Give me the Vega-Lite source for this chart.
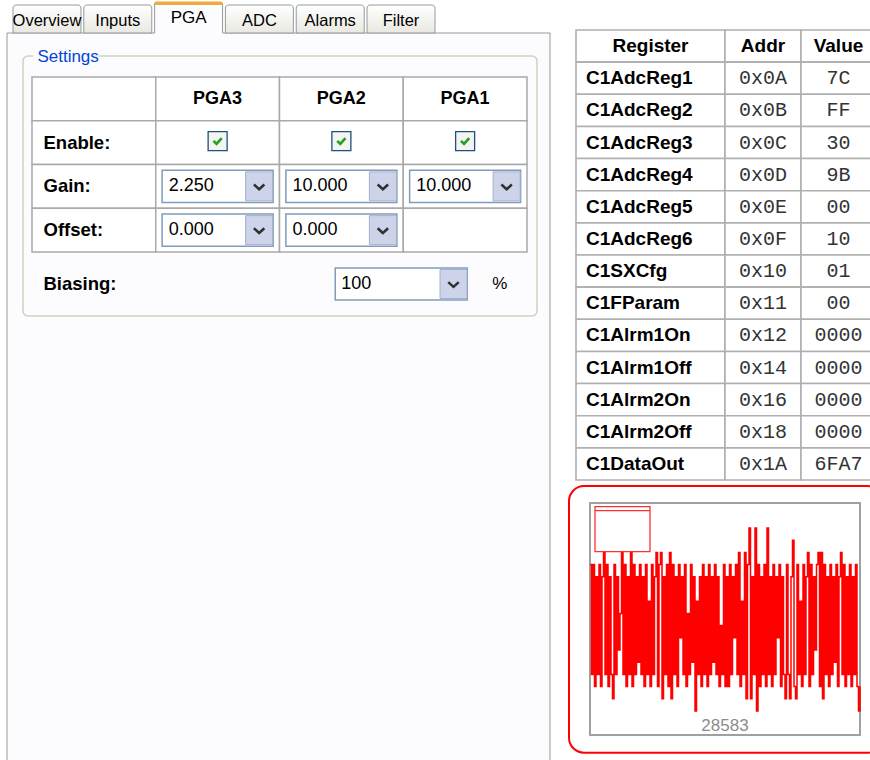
{
"$schema":"https://vega.github.io/schema/vega-lite/v6.json",
"width":870,"height":760,"padding":0,"autosize":{"type":"none"},
"background":"#ffffff",
"config":{"view":{"stroke":null},"axis":{"disable":true},"legend":{"disable":true}},
"datasets":{
 "panel":[{"page":"PGA"}],
 "tabs":[{"tab":"Overview"},{"tab":"Inputs"},{"tab":"PGA","selected":true},{"tab":"ADC"},{"tab":"Alarms"},{"tab":"Filter"}],
 "group":[{"title":"Settings"}],
 "rows":[{"row":"channel","label":""},{"row":"enable","label":"Enable:"},{"row":"gain","label":"Gain:"},{"row":"offset","label":"Offset:"}],
 "pga":[{"channel":"PGA3","enable":true,"gain":"2.250","offset":"0.000"},{"channel":"PGA2","enable":true,"gain":"10.000","offset":"0.000"},{"channel":"PGA1","enable":true,"gain":"10.000","offset":null}],
 "biasing":[{"setting":"Biasing:","value":"100","unit":"%"}],
 "registers":[
  {"register":"Register","addr":"Addr","value":"Value"},
  {"register":"C1AdcReg1","addr":"0x0A","value":"7C"},
  {"register":"C1AdcReg2","addr":"0x0B","value":"FF"},
  {"register":"C1AdcReg3","addr":"0x0C","value":"30"},
  {"register":"C1AdcReg4","addr":"0x0D","value":"9B"},
  {"register":"C1AdcReg5","addr":"0x0E","value":"00"},
  {"register":"C1AdcReg6","addr":"0x0F","value":"10"},
  {"register":"C1SXCfg","addr":"0x10","value":"01"},
  {"register":"C1FParam","addr":"0x11","value":"00"},
  {"register":"C1Alrm1On","addr":"0x12","value":"0000"},
  {"register":"C1Alrm1Off","addr":"0x14","value":"0000"},
  {"register":"C1Alrm2On","addr":"0x16","value":"0000"},
  {"register":"C1Alrm2Off","addr":"0x18","value":"0000"},
  {"register":"C1DataOut","addr":"0x1A","value":"6FA7"}
 ],
 "reading":[{"reading":28583}],
 "signal":[
{"i":0,"code":28588},{"i":1,"code":28579},{"i":2,"code":28588},{"i":3,"code":28578},{"i":4,"code":28587},{"i":5,"code":28579},{"i":6,"code":28588},{"i":7,"code":28578},{"i":8,"code":28587},{"i":9,"code":28590},
{"i":10,"code":28579},{"i":11,"code":28588},{"i":12,"code":28578},{"i":13,"code":28587},{"i":14,"code":28579},{"i":15,"code":28577},{"i":16,"code":28588},{"i":17,"code":28579},{"i":18,"code":28587},{"i":19,"code":28581},
{"i":20,"code":28584},{"i":21,"code":28590},{"i":22,"code":28579},{"i":23,"code":28588},{"i":24,"code":28578},{"i":25,"code":28587},{"i":26,"code":28579},{"i":27,"code":28590},{"i":28,"code":28578},{"i":29,"code":28588},
{"i":30,"code":28579},{"i":31,"code":28587},{"i":32,"code":28580},{"i":33,"code":28588},{"i":34,"code":28579},{"i":35,"code":28587},{"i":36,"code":28578},{"i":37,"code":28588},{"i":38,"code":28579},{"i":39,"code":28585},
{"i":40,"code":28578},{"i":41,"code":28588},{"i":42,"code":28579},{"i":43,"code":28587},{"i":44,"code":28589},{"i":45,"code":28578},{"i":46,"code":28588},{"i":47,"code":28589},{"i":48,"code":28577},{"i":49,"code":28587},
{"i":50,"code":28579},{"i":51,"code":28588},{"i":52,"code":28578},{"i":53,"code":28589},{"i":54,"code":28577},{"i":55,"code":28588},{"i":56,"code":28579},{"i":57,"code":28587},{"i":58,"code":28578},{"i":59,"code":28588},
{"i":60,"code":28582},{"i":61,"code":28587},{"i":62,"code":28579},{"i":63,"code":28588},{"i":64,"code":28578},{"i":65,"code":28584},{"i":66,"code":28579},{"i":67,"code":28588},{"i":68,"code":28580},{"i":69,"code":28587},
{"i":70,"code":28576},{"i":71,"code":28585},{"i":72,"code":28579},{"i":73,"code":28587},{"i":74,"code":28578},{"i":75,"code":28588},{"i":76,"code":28579},{"i":77,"code":28587},{"i":78,"code":28578},{"i":79,"code":28588},
{"i":80,"code":28579},{"i":81,"code":28587},{"i":82,"code":28580},{"i":83,"code":28588},{"i":84,"code":28579},{"i":85,"code":28587},{"i":86,"code":28578},{"i":87,"code":28583},{"i":88,"code":28579},{"i":89,"code":28588},
{"i":90,"code":28578},{"i":91,"code":28587},{"i":92,"code":28578},{"i":93,"code":28588},{"i":94,"code":28579},{"i":95,"code":28587},{"i":96,"code":28582},{"i":97,"code":28588},{"i":98,"code":28579},{"i":99,"code":28589},
{"i":100,"code":28578},{"i":101,"code":28585},{"i":102,"code":28579},{"i":103,"code":28589},{"i":104,"code":28577},{"i":105,"code":28588},{"i":106,"code":28591},{"i":107,"code":28577},{"i":108,"code":28587},{"i":109,"code":28579},
{"i":110,"code":28591},{"i":111,"code":28576},{"i":112,"code":28588},{"i":113,"code":28578},{"i":114,"code":28587},{"i":115,"code":28579},{"i":116,"code":28588},{"i":117,"code":28578},{"i":118,"code":28591},{"i":119,"code":28579},
{"i":120,"code":28587},{"i":121,"code":28578},{"i":122,"code":28588},{"i":123,"code":28579},{"i":124,"code":28587},{"i":125,"code":28582},{"i":126,"code":28588},{"i":127,"code":28578},{"i":128,"code":28587},{"i":129,"code":28579},
{"i":130,"code":28577},{"i":131,"code":28588},{"i":132,"code":28579},{"i":133,"code":28577},{"i":134,"code":28587},{"i":135,"code":28590},{"i":136,"code":28578},{"i":137,"code":28577},{"i":138,"code":28588},{"i":139,"code":28579},
{"i":140,"code":28585},{"i":141,"code":28578},{"i":142,"code":28588},{"i":143,"code":28579},{"i":144,"code":28587},{"i":145,"code":28589},{"i":146,"code":28578},{"i":147,"code":28588},{"i":148,"code":28579},{"i":149,"code":28587},
{"i":150,"code":28581},{"i":151,"code":28588},{"i":152,"code":28589},{"i":153,"code":28578},{"i":154,"code":28589},{"i":155,"code":28577},{"i":156,"code":28588},{"i":157,"code":28579},{"i":158,"code":28587},{"i":159,"code":28578},
{"i":160,"code":28588},{"i":161,"code":28579},{"i":162,"code":28587},{"i":163,"code":28580},{"i":164,"code":28588},{"i":165,"code":28578},{"i":166,"code":28587},{"i":167,"code":28589},{"i":168,"code":28579},{"i":169,"code":28588},
{"i":170,"code":28578},{"i":171,"code":28587},{"i":172,"code":28579},{"i":173,"code":28588},{"i":174,"code":28578},{"i":175,"code":28587},{"i":176,"code":28579},{"i":177,"code":28588},{"i":178,"code":28578},{"i":179,"code":28576},
{"i":180,"code":28578}
 ]
},
"resolve":{"scale":{"x":"independent","y":"independent"}},
"layer":[
 {"data":{"name":"panel"},
  "mark":{"type":"rect","fill":"#fcfcfe","stroke":"#919b9c","strokeWidth":1},
  "encoding":{
   "x":{"datum":0,"type":"quantitative","scale":{"domain":[0,1],"range":[7,550],"nice":false,"zero":false}},"x2":{"datum":1},
   "y":{"datum":0,"type":"quantitative","scale":{"domain":[0,1],"range":[33,800],"nice":false,"zero":false}},"y2":{"datum":1}}},
 {"data":{"name":"tabs"},
  "resolve":{"scale":{"y":"independent"}},
  "layer":[
   {"transform":[{"filter":"!datum.selected"}],
    "mark":{"type":"rect","stroke":"#919b9c","strokeWidth":1,"cornerRadiusTopLeft":3,"cornerRadiusTopRight":3,
     "fill":{"gradient":"linear","x1":0,"y1":0,"x2":0,"y2":1,"stops":[{"offset":0,"color":"#ffffff"},{"offset":1,"color":"#e9e8e1"}]}},
    "encoding":{
     "x":{"field":"tab","type":"nominal","scale":{"domain":["Overview","Inputs","PGA","ADC","Alarms","Filter"],"range":[13,435],"paddingInner":0.04,"paddingOuter":0}},
     "y":{"datum":0,"type":"quantitative","scale":{"domain":[0,1],"range":[5,33],"nice":false,"zero":false}},"y2":{"datum":1}}},
   {"transform":[{"filter":"!datum.selected"}],
    "mark":{"type":"text","font":"Liberation Sans","fontSize":16.5,"baseline":"middle","fill":"#000000"},
    "encoding":{
     "x":{"field":"tab","type":"nominal","scale":{"domain":["Overview","Inputs","PGA","ADC","Alarms","Filter"],"range":[13,435],"paddingInner":0.04,"paddingOuter":0}},
     "y":{"datum":0.57,"type":"quantitative","scale":{"domain":[0,1],"range":[5,33],"nice":false,"zero":false}},
     "text":{"field":"tab","type":"nominal"}}},
   {"transform":[{"filter":"datum.selected"}],
    "mark":{"type":"rect","fill":"#fcfcfe","cornerRadiusTopLeft":3,"cornerRadiusTopRight":3},
    "encoding":{
     "x":{"field":"tab","type":"nominal","scale":{"domain":["Overview","Inputs","PGA","ADC","Alarms","Filter"],"range":[13,435],"paddingInner":0.04,"paddingOuter":0}},
     "y":{"datum":0,"type":"quantitative","scale":{"domain":[0,1],"range":[2,35],"nice":false,"zero":false}},"y2":{"datum":1}}},
   {"transform":[{"filter":"datum.selected"}],
    "mark":{"type":"rule","stroke":"#919b9c","strokeWidth":1},
    "encoding":{
     "x":{"field":"tab","type":"nominal","bandPosition":0,"scale":{"domain":["Overview","Inputs","PGA","ADC","Alarms","Filter"],"range":[13,435],"paddingInner":0.04,"paddingOuter":0}},
     "y":{"datum":0,"type":"quantitative","scale":{"domain":[0,1],"range":[3,33],"nice":false,"zero":false}},"y2":{"datum":1}}},
   {"transform":[{"filter":"datum.selected"}],
    "mark":{"type":"rule","stroke":"#919b9c","strokeWidth":1},
    "encoding":{
     "x":{"field":"tab","type":"nominal","bandPosition":1,"scale":{"domain":["Overview","Inputs","PGA","ADC","Alarms","Filter"],"range":[13,435],"paddingInner":0.04,"paddingOuter":0}},
     "y":{"datum":0,"type":"quantitative","scale":{"domain":[0,1],"range":[3,33],"nice":false,"zero":false}},"y2":{"datum":1}}},
   {"transform":[{"filter":"datum.selected"}],
    "mark":{"type":"rect","fill":"#f2a93b","cornerRadiusTopLeft":3,"cornerRadiusTopRight":3},
    "encoding":{
     "x":{"field":"tab","type":"nominal","scale":{"domain":["Overview","Inputs","PGA","ADC","Alarms","Filter"],"range":[13,435],"paddingInner":0.04,"paddingOuter":0}},
     "y":{"datum":0,"type":"quantitative","scale":{"domain":[0,1],"range":[1.5,5],"nice":false,"zero":false}},"y2":{"datum":1}}},
   {"transform":[{"filter":"datum.selected"}],
    "mark":{"type":"text","font":"Liberation Sans","fontSize":17,"baseline":"middle","fill":"#000000"},
    "encoding":{
     "x":{"field":"tab","type":"nominal","scale":{"domain":["Overview","Inputs","PGA","ADC","Alarms","Filter"],"range":[13,435],"paddingInner":0.04,"paddingOuter":0}},
     "y":{"datum":0.47,"type":"quantitative","scale":{"domain":[0,1],"range":[2,35],"nice":false,"zero":false}},
     "text":{"field":"tab","type":"nominal"}}}
  ]},
 {"data":{"name":"group"},
  "layer":[
   {"mark":{"type":"rect","fill":"#ffffff","fillOpacity":0,"stroke":"#d0d0bf","strokeWidth":1.5,"cornerRadius":5},
    "encoding":{
     "x":{"datum":0,"type":"quantitative","scale":{"domain":[0,1],"range":[23,537],"nice":false,"zero":false}},"x2":{"datum":1},
     "y":{"datum":0,"type":"quantitative","scale":{"domain":[0,1],"range":[56,316],"nice":false,"zero":false}},"y2":{"datum":1}}},
   {"mark":{"type":"rect","fill":"#fcfcfe"},
    "encoding":{
     "x":{"datum":0.02,"type":"quantitative","scale":{"domain":[0,1],"range":[23,537],"nice":false,"zero":false}},"x2":{"datum":0.148},
     "y":{"datum":-0.03,"type":"quantitative","scale":{"domain":[0,1],"range":[56,316],"nice":false,"zero":false}},"y2":{"datum":0.03}}},
   {"mark":{"type":"text","align":"left","baseline":"middle","font":"Liberation Sans","fontSize":17,"fill":"#0046d5"},
    "encoding":{
     "x":{"datum":0.028,"type":"quantitative","scale":{"domain":[0,1],"range":[23,537],"nice":false,"zero":false}},
     "y":{"datum":0.003,"type":"quantitative","scale":{"domain":[0,1],"range":[56,316],"nice":false,"zero":false}},
     "text":{"field":"title","type":"nominal"}}}
  ]},
 {"layer":[
   {"data":{"name":"rows"},
    "mark":{"type":"rect","fill":"#ffffff","stroke":"#a9a9a9","strokeWidth":1.5},
    "encoding":{
     "x":{"datum":"label","type":"nominal","scale":{"type":"band","domain":["label","PGA3","PGA2","PGA1"],"range":[32,527],"paddingInner":0,"paddingOuter":0}},
     "y":{"field":"row","type":"nominal","scale":{"type":"band","domain":["channel","enable","gain","offset"],"range":[77,252],"paddingInner":0,"paddingOuter":0}}}},
   {"data":{"name":"pga"},
    "transform":[{"fold":["channel","enable","gain","offset"],"as":["row","val"]}],
    "mark":{"type":"rect","fill":"#ffffff","stroke":"#a9a9a9","strokeWidth":1.5},
    "encoding":{
     "x":{"field":"channel","type":"nominal","scale":{"type":"band","domain":["label","PGA3","PGA2","PGA1"],"range":[32,527],"paddingInner":0,"paddingOuter":0}},
     "y":{"field":"row","type":"nominal","scale":{"type":"band","domain":["channel","enable","gain","offset"],"range":[77,252],"paddingInner":0,"paddingOuter":0}}}},
   {"data":{"name":"pga"},
    "mark":{"type":"text","font":"Liberation Sans","fontWeight":"bold","fontSize":18,"baseline":"middle","fill":"#000000"},
    "encoding":{
     "x":{"field":"channel","type":"nominal","scale":{"type":"band","domain":["label","PGA3","PGA2","PGA1"],"range":[32,527],"paddingInner":0,"paddingOuter":0}},
     "y":{"datum":"channel","type":"nominal","scale":{"type":"band","domain":["channel","enable","gain","offset"],"range":[77,252],"paddingInner":0,"paddingOuter":0}},
     "text":{"field":"channel","type":"nominal"}}},
   {"data":{"name":"rows"},
    "mark":{"type":"text","align":"left","dx":11.5,"font":"Liberation Sans","fontWeight":"bold","fontSize":18.5,"baseline":"middle","fill":"#000000"},
    "encoding":{
     "x":{"datum":"label","type":"nominal","bandPosition":0,"scale":{"type":"band","domain":["label","PGA3","PGA2","PGA1"],"range":[32,527],"paddingInner":0,"paddingOuter":0}},
     "y":{"field":"row","type":"nominal","scale":{"type":"band","domain":["channel","enable","gain","offset"],"range":[77,252],"paddingInner":0,"paddingOuter":0}},
     "text":{"field":"label","type":"nominal"}}},
   {"data":{"name":"pga"},
    "transform":[{"filter":"datum.enable"}],
    "mark":{"type":"point","shape":"square","size":361,"filled":true,"fill":"#f4f5f1","stroke":"#1c5180","strokeWidth":1.3,"opacity":1,"yOffset":-1.5},
    "encoding":{
     "x":{"field":"channel","type":"nominal","scale":{"type":"band","domain":["label","PGA3","PGA2","PGA1"],"range":[32,527],"paddingInner":0,"paddingOuter":0}},
     "y":{"datum":"enable","type":"nominal","scale":{"type":"band","domain":["channel","enable","gain","offset"],"range":[77,252],"paddingInner":0,"paddingOuter":0}}}},
   {"data":{"name":"pga"},
    "transform":[{"filter":"datum.enable"}],
    "mark":{"type":"point","shape":"M-0.75,-0.05L-0.2,0.5L0.75,-0.55","size":121,"filled":false,"stroke":"#21a121","strokeWidth":2.6,"opacity":1,"yOffset":-1.5},
    "encoding":{
     "x":{"field":"channel","type":"nominal","scale":{"type":"band","domain":["label","PGA3","PGA2","PGA1"],"range":[32,527],"paddingInner":0,"paddingOuter":0}},
     "y":{"datum":"enable","type":"nominal","scale":{"type":"band","domain":["channel","enable","gain","offset"],"range":[77,252],"paddingInner":0,"paddingOuter":0}}}},
   {"data":{"name":"pga"},
    "transform":[{"fold":["gain","offset"],"as":["row","setting"]},{"filter":"datum.setting != null"}],
    "mark":{"type":"point","shape":"M-1,-0.2883H1V0.2883H-1Z","size":12321,"filled":true,"fill":"#ffffff","stroke":"#7f9db9","strokeWidth":1.5,"opacity":1},
    "encoding":{
     "x":{"field":"channel","type":"nominal","scale":{"type":"band","domain":["label","PGA3","PGA2","PGA1"],"range":[32,527],"paddingInner":0,"paddingOuter":0}},
     "y":{"field":"row","type":"nominal","scale":{"type":"band","domain":["channel","enable","gain","offset"],"range":[77,252],"paddingInner":0,"paddingOuter":0}}}},
   {"data":{"name":"pga"},
    "transform":[{"fold":["gain","offset"],"as":["row","setting"]},{"filter":"datum.setting != null"}],
    "mark":{"type":"point","shape":"M-1,-1.074H1V1.074H-1Z","size":729,"filled":true,"fill":"#cdd4e9","stroke":"#a4b0d0","strokeWidth":1,"opacity":1,"xOffset":41.5},
    "encoding":{
     "x":{"field":"channel","type":"nominal","scale":{"type":"band","domain":["label","PGA3","PGA2","PGA1"],"range":[32,527],"paddingInner":0,"paddingOuter":0}},
     "y":{"field":"row","type":"nominal","scale":{"type":"band","domain":["channel","enable","gain","offset"],"range":[77,252],"paddingInner":0,"paddingOuter":0}}}},
   {"data":{"name":"pga"},
    "transform":[{"fold":["gain","offset"],"as":["row","setting"]},{"filter":"datum.setting != null"}],
    "mark":{"type":"point","shape":"M-1,-0.45L0,0.45L1,-0.45","size":110,"filled":false,"stroke":"#303030","strokeWidth":2.5,"opacity":1,"xOffset":41.5,"yOffset":0.5},
    "encoding":{
     "x":{"field":"channel","type":"nominal","scale":{"type":"band","domain":["label","PGA3","PGA2","PGA1"],"range":[32,527],"paddingInner":0,"paddingOuter":0}},
     "y":{"field":"row","type":"nominal","scale":{"type":"band","domain":["channel","enable","gain","offset"],"range":[77,252],"paddingInner":0,"paddingOuter":0}}}},
   {"data":{"name":"pga"},
    "transform":[{"fold":["gain","offset"],"as":["row","setting"]},{"filter":"datum.setting != null"}],
    "mark":{"type":"text","align":"left","dx":-49,"baseline":"middle","font":"Liberation Sans","fontSize":18,"fill":"#000000"},
    "encoding":{
     "x":{"field":"channel","type":"nominal","scale":{"type":"band","domain":["label","PGA3","PGA2","PGA1"],"range":[32,527],"paddingInner":0,"paddingOuter":0}},
     "y":{"field":"row","type":"nominal","scale":{"type":"band","domain":["channel","enable","gain","offset"],"range":[77,252],"paddingInner":0,"paddingOuter":0}},
     "text":{"field":"setting","type":"nominal"}}}
  ]},
 {"data":{"name":"biasing"},
  "layer":[
   {"mark":{"type":"text","align":"left","dx":11.5,"font":"Liberation Sans","fontWeight":"bold","fontSize":18.5,"baseline":"middle","fill":"#000000"},
    "encoding":{
     "x":{"datum":"label","type":"nominal","bandPosition":0,"scale":{"type":"band","domain":["label","PGA3","PGA2","PGA1"],"range":[32,527],"paddingInner":0,"paddingOuter":0}},
     "y":{"field":"setting","type":"nominal","scale":{"type":"band","range":[268,300],"paddingInner":0,"paddingOuter":0}},
     "text":{"field":"setting","type":"nominal"}}},
   {"mark":{"type":"point","shape":"M-1,-0.2424H1V0.2424H-1Z","size":17424,"filled":true,"fill":"#ffffff","stroke":"#7f9db9","strokeWidth":1.5,"opacity":1,"xOffset":-2},
    "encoding":{
     "x":{"datum":"PGA1","type":"nominal","bandPosition":0,"scale":{"type":"band","domain":["label","PGA3","PGA2","PGA1"],"range":[32,527],"paddingInner":0,"paddingOuter":0}},
     "y":{"field":"setting","type":"nominal","scale":{"type":"band","range":[268,300],"paddingInner":0,"paddingOuter":0}}}},
   {"mark":{"type":"point","shape":"M-1,-1.074H1V1.074H-1Z","size":729,"filled":true,"fill":"#cdd4e9","stroke":"#a4b0d0","strokeWidth":1,"opacity":1,"xOffset":50.25},
    "encoding":{
     "x":{"datum":"PGA1","type":"nominal","bandPosition":0,"scale":{"type":"band","domain":["label","PGA3","PGA2","PGA1"],"range":[32,527],"paddingInner":0,"paddingOuter":0}},
     "y":{"field":"setting","type":"nominal","scale":{"type":"band","range":[268,300],"paddingInner":0,"paddingOuter":0}}}},
   {"mark":{"type":"point","shape":"M-1,-0.45L0,0.45L1,-0.45","size":110,"filled":false,"stroke":"#303030","strokeWidth":2.5,"opacity":1,"xOffset":50.25,"yOffset":0.5},
    "encoding":{
     "x":{"datum":"PGA1","type":"nominal","bandPosition":0,"scale":{"type":"band","domain":["label","PGA3","PGA2","PGA1"],"range":[32,527],"paddingInner":0,"paddingOuter":0}},
     "y":{"field":"setting","type":"nominal","scale":{"type":"band","range":[268,300],"paddingInner":0,"paddingOuter":0}}}},
   {"mark":{"type":"text","align":"left","dx":-62,"baseline":"middle","font":"Liberation Sans","fontSize":18,"fill":"#000000"},
    "encoding":{
     "x":{"datum":"PGA1","type":"nominal","bandPosition":0,"scale":{"type":"band","domain":["label","PGA3","PGA2","PGA1"],"range":[32,527],"paddingInner":0,"paddingOuter":0}},
     "y":{"field":"setting","type":"nominal","scale":{"type":"band","range":[268,300],"paddingInner":0,"paddingOuter":0}},
     "text":{"field":"value","type":"nominal"}}},
   {"mark":{"type":"text","baseline":"middle","font":"Liberation Sans","fontSize":17,"fill":"#000000"},
    "encoding":{
     "x":{"datum":"PGA1","type":"nominal","bandPosition":0.78,"scale":{"type":"band","domain":["label","PGA3","PGA2","PGA1"],"range":[32,527],"paddingInner":0,"paddingOuter":0}},
     "y":{"field":"setting","type":"nominal","scale":{"type":"band","range":[268,300],"paddingInner":0,"paddingOuter":0}},
     "text":{"field":"unit","type":"nominal"}}}
  ]},
 {"data":{"name":"registers"},
  "layer":[
   {"mark":{"type":"rect","fill":"#ffffff","stroke":"#b0b0b0","strokeWidth":1.6},
    "encoding":{
     "x":{"datum":0,"type":"quantitative","scale":{"domain":[0,1],"range":[576,725],"nice":false,"zero":false}},"x2":{"datum":1},
     "y":{"field":"register","type":"nominal","sort":null,"scale":{"range":[30,480],"paddingInner":0,"paddingOuter":0}}}},
   {"mark":{"type":"text","font":"Liberation Sans","fontWeight":"bold","fontSize":19,"baseline":"middle","fill":"#000000"},
    "encoding":{
     "x":{"datum":0.5,"type":"quantitative","scale":{"domain":[0,1],"range":[576,725],"nice":false,"zero":false}},
     "y":{"field":"register","type":"nominal","sort":null,"scale":{"range":[30,480],"paddingInner":0,"paddingOuter":0}},
     "text":{"field":"register","type":"nominal","condition":{"test":"datum.register != 'Register'","value":""}}}},
   {"mark":{"type":"text","align":"left","dx":10,"font":"Liberation Sans","fontWeight":"bold","fontSize":19,"baseline":"middle","fill":"#000000"},
    "encoding":{
     "x":{"datum":0,"type":"quantitative","scale":{"domain":[0,1],"range":[576,725],"nice":false,"zero":false}},
     "y":{"field":"register","type":"nominal","sort":null,"scale":{"range":[30,480],"paddingInner":0,"paddingOuter":0}},
     "text":{"field":"register","type":"nominal","condition":{"test":"datum.register == 'Register'","value":""}}}}
  ]},
 {"data":{"name":"registers"},
  "layer":[
   {"mark":{"type":"rect","fill":"#ffffff","stroke":"#b0b0b0","strokeWidth":1.6},
    "encoding":{
     "x":{"datum":0,"type":"quantitative","scale":{"domain":[0,1],"range":[725,801],"nice":false,"zero":false}},"x2":{"datum":1},
     "y":{"field":"register","type":"nominal","sort":null,"scale":{"range":[30,480],"paddingInner":0,"paddingOuter":0}}}},
   {"mark":{"type":"text","font":"Liberation Sans","fontWeight":"bold","fontSize":19,"baseline":"middle","fill":"#000000"},
    "encoding":{
     "x":{"datum":0.5,"type":"quantitative","scale":{"domain":[0,1],"range":[725,801],"nice":false,"zero":false}},
     "y":{"field":"register","type":"nominal","sort":null,"scale":{"range":[30,480],"paddingInner":0,"paddingOuter":0}},
     "text":{"field":"addr","type":"nominal","condition":{"test":"datum.register != 'Register'","value":""}}}},
   {"mark":{"type":"text","font":"Liberation Mono","fontSize":20,"baseline":"middle","fill":"#333333"},
    "encoding":{
     "x":{"datum":0.5,"type":"quantitative","scale":{"domain":[0,1],"range":[725,801],"nice":false,"zero":false}},
     "y":{"field":"register","type":"nominal","sort":null,"scale":{"range":[30,480],"paddingInner":0,"paddingOuter":0}},
     "text":{"field":"addr","type":"nominal","condition":{"test":"datum.register == 'Register'","value":""}}}}
  ]},
 {"data":{"name":"registers"},
  "layer":[
   {"mark":{"type":"rect","fill":"#ffffff","stroke":"#b0b0b0","strokeWidth":1.6},
    "encoding":{
     "x":{"datum":0,"type":"quantitative","scale":{"domain":[0,1],"range":[801,876],"nice":false,"zero":false}},"x2":{"datum":1},
     "y":{"field":"register","type":"nominal","sort":null,"scale":{"range":[30,480],"paddingInner":0,"paddingOuter":0}}}},
   {"mark":{"type":"text","font":"Liberation Sans","fontWeight":"bold","fontSize":19,"baseline":"middle","fill":"#000000"},
    "encoding":{
     "x":{"datum":0.5,"type":"quantitative","scale":{"domain":[0,1],"range":[801,876],"nice":false,"zero":false}},
     "y":{"field":"register","type":"nominal","sort":null,"scale":{"range":[30,480],"paddingInner":0,"paddingOuter":0}},
     "text":{"field":"value","type":"nominal","condition":{"test":"datum.register != 'Register'","value":""}}}},
   {"mark":{"type":"text","font":"Liberation Mono","fontSize":20,"baseline":"middle","fill":"#333333"},
    "encoding":{
     "x":{"datum":0.5,"type":"quantitative","scale":{"domain":[0,1],"range":[801,876],"nice":false,"zero":false}},
     "y":{"field":"register","type":"nominal","sort":null,"scale":{"range":[30,480],"paddingInner":0,"paddingOuter":0}},
     "text":{"field":"value","type":"nominal","condition":{"test":"datum.register == 'Register'","value":""}}}}
  ]},
 {"layer":[
   {"data":{"name":"reading"},
    "mark":{"type":"rect","fill":"#ffffff","stroke":"#ff0000","strokeWidth":2,"cornerRadius":15},
    "encoding":{
     "x":{"datum":-14,"type":"quantitative","scale":{"domain":[0,180],"range":[590,860],"nice":false,"zero":false}},"x2":{"datum":195},
     "y":{"datum":28572.58,"type":"quantitative","scale":{"domain":[28574.03,28593.05],"range":[735,503],"nice":false,"zero":false}},"y2":{"datum":28594.44}}},
   {"data":{"name":"reading"},
    "mark":{"type":"rect","fill":"#ffffff","stroke":"#a0a0a0","strokeWidth":2},
    "encoding":{
     "x":{"datum":0,"type":"quantitative","scale":{"domain":[0,180],"range":[590,860],"nice":false,"zero":false}},"x2":{"datum":180},
     "y":{"datum":28574.03,"type":"quantitative","scale":{"domain":[28574.03,28593.05],"range":[735,503],"nice":false,"zero":false}},"y2":{"datum":28593.05}}},
   {"data":{"name":"signal"},
    "mark":{"type":"line","interpolate":"step-after","stroke":"#ff0000","strokeWidth":1.5},
    "encoding":{
     "x":{"field":"i","type":"quantitative","scale":{"domain":[0,180],"range":[590,860],"nice":false,"zero":false}},
     "y":{"field":"code","type":"quantitative","scale":{"domain":[28574.03,28593.05],"range":[735,503],"nice":false,"zero":false}}}},
   {"data":{"name":"reading"},
    "mark":{"type":"rect","fill":"#ffffff","stroke":"#ff3030","strokeWidth":1.3},
    "encoding":{
     "x":{"datum":3.33,"type":"quantitative","scale":{"domain":[0,180],"range":[590,860],"nice":false,"zero":false}},"x2":{"datum":40},
     "y":{"datum":28589.06,"type":"quantitative","scale":{"domain":[28574.03,28593.05],"range":[735,503],"nice":false,"zero":false}},"y2":{"datum":28592.75}}},
   {"data":{"name":"reading"},
    "mark":{"type":"rule","stroke":"#ff3030","strokeWidth":1.3},
    "encoding":{
     "x":{"datum":3.33,"type":"quantitative","scale":{"domain":[0,180],"range":[590,860],"nice":false,"zero":false}},"x2":{"datum":40},
     "y":{"datum":28592.42,"type":"quantitative","scale":{"domain":[28574.03,28593.05],"range":[735,503],"nice":false,"zero":false}}}},
   {"data":{"name":"reading"},
    "mark":{"type":"text","baseline":"alphabetic","dy":-4,"font":"Liberation Sans","fontSize":17,"fill":"#8c8c8c"},
    "encoding":{
     "x":{"datum":90,"type":"quantitative","scale":{"domain":[0,180],"range":[590,860],"nice":false,"zero":false}},
     "y":{"datum":28574.03,"type":"quantitative","scale":{"domain":[28574.03,28593.05],"range":[735,503],"nice":false,"zero":false}},
     "text":{"field":"reading","type":"quantitative"}}}
  ]}
]
}
